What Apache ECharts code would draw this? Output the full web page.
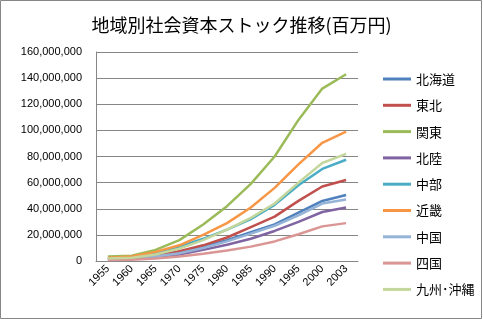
<!DOCTYPE html>
<html><head><meta charset="utf-8">
<script src="https://cdn.jsdelivr.net/npm/echarts@6/dist/echarts.min.js"></script>
<style>html,body{margin:0;padding:0;background:#fff}#c{width:483px;height:321px}</style>
</head><body><div id="c"></div>
<script>
const years = ['1955','1960','1965','1970','1975','1980','1985','1990','1995','2000','2003'];
const regions = ['北海道','東北','関東','北陸','中部','近畿','中国','四国','九州･沖縄'];
const colors = ['#4F81BD','#C0504D','#9BBB59','#8064A2','#4BACC6','#F79646','#95B3D7','#D99694','#C3D69B'];
// values in millions (scaled by 1e6 below)
const hokkaido = [1.5, 2, 3.5, 6.5, 11, 16, 22, 28, 37, 46, 50.5];
const tohoku   = [1.5, 2, 4, 7.5, 12, 18, 26, 34, 46, 57, 62];
const kanto    = [3.5, 4, 8.5, 16, 28, 42, 59, 80, 108, 132, 143];
const hokuriku = [1, 1.5, 3, 5, 8.5, 12.5, 17, 23, 30, 37.5, 41];
const chubu    = [2, 3, 5.5, 11, 17, 24, 32, 43, 58, 70.5, 77.5];
const kinki    = [2.5, 3.5, 7, 12, 20, 29, 41, 56, 74, 90.5, 99];
const chugoku  = [1.5, 2, 3.5, 6, 10, 15, 21, 27, 35, 44, 47];
const shikoku  = [0.8, 1, 2, 3.5, 5.5, 8, 11, 15, 20.5, 26.5, 29];
const kyushu   = [2, 2.5, 5, 9.5, 16, 24, 33, 44, 60, 75, 82];
const seriesData = [hokkaido, tohoku, kanto, hokuriku, chubu, kinki, chugoku, shikoku, kyushu];
const yTicks = {min: 0, max: 160000000, interval: 20000000};

const chart = echarts.init(document.getElementById('c'));
const font = '"Noto Sans CJK JP", "DejaVu Sans", sans-serif';
chart.setOption({
  animation: false,
  color: colors,
  textStyle: {fontFamily: font},
  title: {
    text: '地域別社会資本ストック推移(百万円)',
    left: 'center', top: 11,
    textStyle: {fontSize: 18, fontWeight: 'normal', color: '#000', fontFamily: font}
  },
  graphic: [{type: 'rect', shape: {x: 0.5, y: 0.5, width: 481, height: 318}, style: {fill: 'none', stroke: '#868686', lineWidth: 1}, silent: true}],
  grid: {left: 96, right: 125, top: 52, bottom: 60, containLabel: false},
  legend: {
    orient: 'vertical', left: 378, top: 66,
    icon: 'rect', itemWidth: 28, itemHeight: 3, itemGap: 10.3,
    textStyle: {fontSize: 13, color: '#000', lineHeight: 16, fontFamily: font},
    data: regions
  },
  xAxis: {
    type: 'category', data: years, boundaryGap: true,
    axisLine: {lineStyle: {color: '#868686'}},
    axisTick: {show: false},
    axisLabel: {rotate: 45, fontSize: 11, color: '#000', margin: 6, interval: 0, fontFamily: 'Liberation Sans, Arial, sans-serif'}
  },
  yAxis: {
    type: 'value', min: yTicks.min, max: yTicks.max, interval: yTicks.interval,
    axisLine: {show: true, lineStyle: {color: '#868686'}},
    axisTick: {show: false},
    splitLine: {lineStyle: {color: '#868686'}},
    axisLabel: {fontSize: 11, color: '#000', margin: 14, fontFamily: 'Liberation Sans, Arial, sans-serif',
      formatter: v => v.toLocaleString('en-US')}
  },
  series: regions.map((name, i) => ({
    name, type: 'line', showSymbol: false, symbol: 'none',
    lineStyle: {width: 2.5},
    data: seriesData[i].map(v => v * 1000000)
  }))
});
</script></body></html>
